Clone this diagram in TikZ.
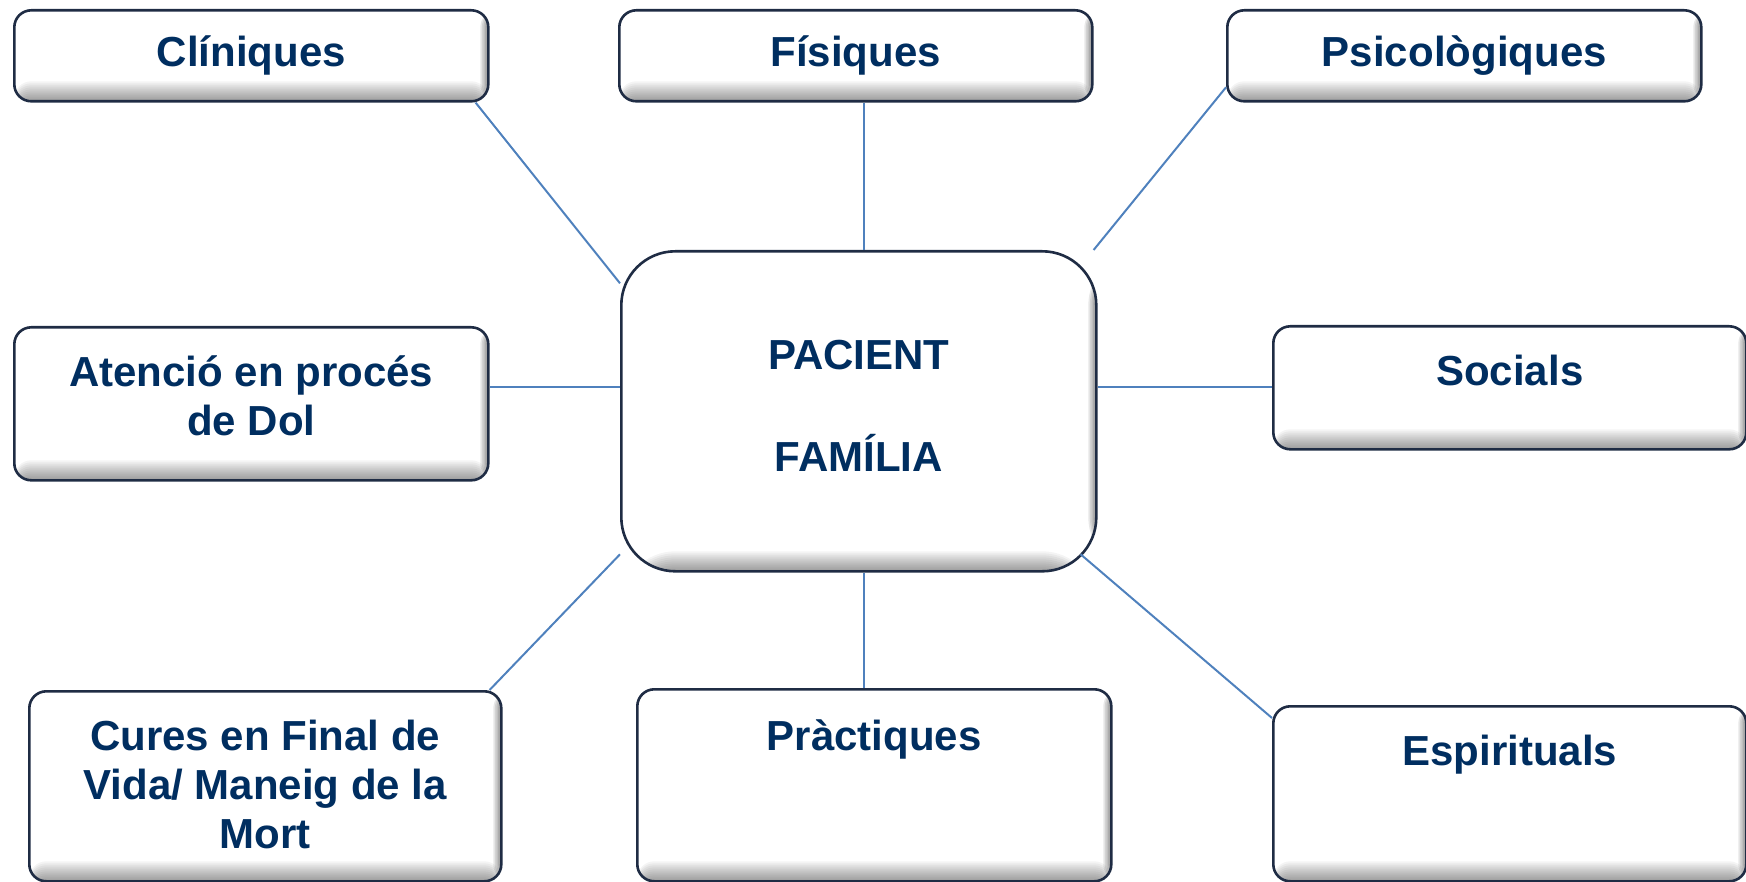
\documentclass[tikz,border=0pt]{standalone}
\usepackage{fontspec}
\setmainfont{Liberation Sans}
\usepackage{tikz}
\usetikzlibrary{positioning}
\definecolor{txtblue}{RGB}{0,46,96}
\definecolor{edgeblue}{RGB}{31,44,68}
\definecolor{linkblue}{RGB}{79,129,189}
\tikzset{
  box/.style={draw=edgeblue, line width=1.3pt, fill=white, rounded corners=8.5pt,
              inner sep=0pt, anchor=north west, text=txtblue,
              font=\fontsize{21}{24.5}\selectfont\bfseries,
              path picture={
                % soft inner shadow, bottom and right
                \foreach \s in {1,...,10}
                  \fill[black, opacity=0.045]
                    (path picture bounding box.south west) rectangle ([yshift=\s*1pt]path picture bounding box.south east);
                \foreach \s in {1,...,5}
                  \fill[black, opacity=0.09]
                    ([xshift=-\s*0.8pt]path picture bounding box.north east) rectangle (path picture bounding box.south east);
              }},
  bigbox/.style={box, rounded corners=27pt},
  link/.style={draw=linkblue, line width=1pt},
}
\newcommand{\boxtext}[4][29.5pt]{\parbox[t][#3][t]{#2}{\centering\rule{0pt}{#1}#4}}

\begin{document}
\begin{tikzpicture}[x=0.5pt, y=-0.5pt]
  \useasboundingbox (0,0) rectangle (1746,882);

  \node[bigbox] (node0) at (620,250) {\boxtext[59pt]{237.5pt}{160pt}{PACIENT\\[26.5pt]FAMÍLIA}};
  \node[box] (node1) at (13,9) {\boxtext[28pt]{237pt}{45.5pt}{Clíniques}};
  \node[box] (node2) at (618,9) {\boxtext[28pt]{236.5pt}{45.5pt}{Físiques}};
  \node[box] (node3) at (1226,9) {\boxtext[28pt]{237pt}{45.5pt}{Psicològiques}};
  \node[box] (node4) at (13,326) {\boxtext{237pt}{76.5pt}{Atenció en procés\\de Dol}};
  \node[box] (node5) at (1272,325) {\boxtext{236.5pt}{61.5pt}{Socials}};
  \node[box] (node6) at (28,690) {\boxtext{236pt}{95pt}{Cures en Final de\\Vida/ Maneig de la\\Mort}};
  \node[box] (node7) at (636,688) {\boxtext[30.5pt]{237pt}{96pt}{Pràctiques}};
  \node[box] (node8) at (1272,705) {\boxtext{236.5pt}{87.5pt}{Espirituals}};

  \draw[link] ([xshift=-7pt]node1.south east) -- ([yshift=64pt]node0.west);
  \draw[link] ([xshift=4.25pt]node2.south) -- ([xshift=4.25pt]node2.south |- node0.north);
  \draw[link] ([yshift=-15.75pt]node3.west) -- ([xshift=-2pt]node0.north east);
  \draw[link] ([yshift=12pt]node0.west) -- ([yshift=12pt]node0.west -| node4.east);
  \draw[link] ([yshift=12pt]node0.east) -- ([yshift=12pt]node0.east -| node5.west);
  \draw[link] ([yshift=-71.5pt]node0.west) -- ([xshift=-6.5pt]node6.north east);
  \draw[link] ([xshift=2.75pt]node0.south) -- ([xshift=2.75pt]node0.south |- node7.north);
  \draw[link] ([xshift=-8.5pt,yshift=-71.5pt]node0.east) -- ([yshift=-6.5pt]node8.north west);
\end{tikzpicture}
\end{document}
